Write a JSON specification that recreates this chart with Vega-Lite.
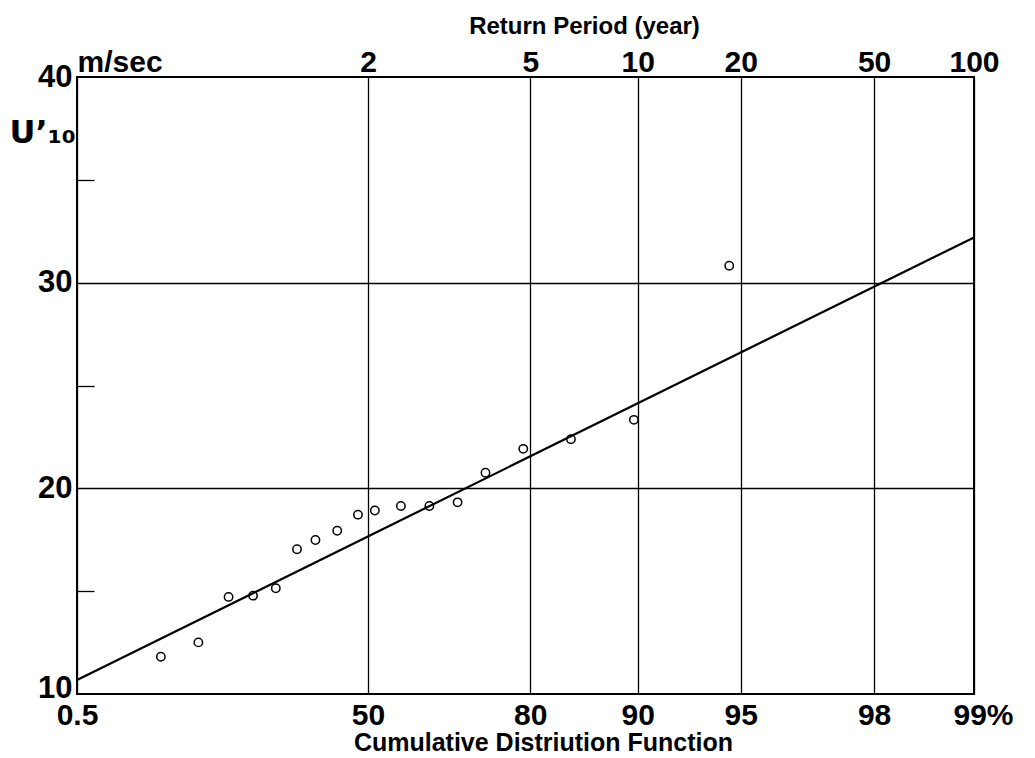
{
  "$schema": "https://vega.github.io/schema/vega-lite/v6.json",
  "width": 897,
  "height": 617,
  "autosize": "none",
  "padding": {"left": 77, "top": 77, "right": 61, "bottom": 64},
  "background": "white",
  "config": {
    "font": "Liberation Sans",
    "view": {"stroke": "black", "strokeWidth": 2},
    "axis": {"labelColor": "black", "titleColor": "black", "labelFont": "Liberation Sans", "titleFont": "Liberation Sans"}
  },
  "datasets": {
    "obs": [
      {"gumbel_variate": -1.081, "U10": 11.81},
      {"gumbel_variate": -0.819, "U10": 12.51},
      {"gumbel_variate": -0.608, "U10": 14.72},
      {"gumbel_variate": -0.437, "U10": 14.78},
      {"gumbel_variate": -0.278, "U10": 15.14},
      {"gumbel_variate": -0.130, "U10": 17.04},
      {"gumbel_variate": -0.001, "U10": 17.49},
      {"gumbel_variate": 0.151, "U10": 17.94},
      {"gumbel_variate": 0.296, "U10": 18.72},
      {"gumbel_variate": 0.414, "U10": 18.92},
      {"gumbel_variate": 0.596, "U10": 19.14},
      {"gumbel_variate": 0.795, "U10": 19.14},
      {"gumbel_variate": 0.992, "U10": 19.32},
      {"gumbel_variate": 1.187, "U10": 20.76},
      {"gumbel_variate": 1.451, "U10": 21.92},
      {"gumbel_variate": 1.784, "U10": 22.39},
      {"gumbel_variate": 2.224, "U10": 23.33},
      {"gumbel_variate": 2.890, "U10": 30.82}
    ],
    "fit": [
      {"gumbel_variate": -1.667, "U10": 10.68},
      {"gumbel_variate": 4.600, "U10": 32.2}
    ]
  },
  "layer": [
    {
      "data": {"name": "fit"},
      "mark": {"type": "line", "color": "black", "strokeWidth": 2.2, "clip": false},
      "encoding": {
        "x": {
          "field": "gumbel_variate", "type": "quantitative",
          "scale": {"domain": [-1.667, 4.6001], "nice": false, "zero": false},
          "axis": {
            "orient": "bottom",
            "values": [-1.667, 0.3665, 1.5, 2.2504, 2.9702, 3.9019, 4.6001],
            "labelExpr": "datum.value < -1 ? '0.5' : datum.value < 1 ? '50' : datum.value < 2 ? '80' : datum.value < 2.6 ? '90' : datum.value < 3.4 ? '95' : datum.value < 4.2 ? '98' : '99%'",
            "labelOffset": {"condition": {"test": "datum.value > 4.2", "value": 9}, "value": 0},
            "grid": true, "gridColor": "black", "gridWidth": 1.3, "gridOpacity": 1,
            "ticks": false, "domain": false,
            "labelFontSize": 30, "labelFontWeight": "bold", "labelPadding": 6, "labelOverlap": false, "labelFlush": false,
            "title": "Cumulative Distriution Function",
            "titleFontSize": 25, "titleFontWeight": "bold",
            "titleX": 466, "titleY": 56, "titleAlign": "center", "titleBaseline": "alphabetic"
          }
        },
        "y": {
          "field": "U10", "type": "quantitative",
          "scale": {"domain": [10, 40], "nice": false, "zero": false},
          "axis": {
            "values": [10, 15, 20, 25, 30, 35, 40],
            "labelExpr": "datum.value % 10 == 0 ? datum.label : ''",
            "labelOffset": {"condition": {"test": "datum.value == 10", "value": -6}, "value": 0},
            "grid": true, "gridColor": "black", "gridWidth": 1.3,
            "gridOpacity": {"condition": {"test": "datum.value == 20 || datum.value == 30", "value": 1}, "value": 0},
            "ticks": true, "tickColor": "black", "tickWidth": 1.3, "tickSize": -17,
            "tickOpacity": {"condition": {"test": "datum.value % 10 != 0", "value": 1}, "value": 0},
            "domain": false,
            "labelFontSize": 31, "labelFontWeight": "bold", "labelPadding": 22, "labelOverlap": false, "labelFlush": false,
            "title": "U’₁₀", "titleAngle": 0, "titleFont": "DejaVu Sans", "titleFontSize": 32, "titleFontWeight": "bold",
            "titleX": -68, "titleY": 65, "titleAlign": "left", "titleBaseline": "alphabetic"
          }
        }
      }
    },
    {
      "data": {"name": "obs"},
      "mark": {"type": "point", "shape": "circle", "filled": false, "stroke": "black", "strokeWidth": 1.5, "size": 70, "opacity": 1},
      "encoding": {
        "x": {
          "field": "gumbel_variate", "type": "quantitative",
          "axis": {
            "orient": "top",
            "values": [-1.667, 0.3665, 1.5, 2.2504, 2.9702, 3.9019, 4.6001],
            "labelExpr": "datum.value < -1 ? 'm/sec' : datum.value < 1 ? '2' : datum.value < 2 ? '5' : datum.value < 2.6 ? '10' : datum.value < 3.4 ? '20' : datum.value < 4.2 ? '50' : '100'",
            "labelAlign": {"condition": {"test": "datum.value < -1", "value": "left"}, "value": "center"},
            "grid": false, "ticks": false, "domain": false,
            "labelFontSize": 30, "labelFontWeight": "bold", "labelPadding": 0, "labelOverlap": false, "labelFlush": false,
            "title": "Return Period (year)",
            "titleFontSize": 24, "titleFontWeight": "bold",
            "titleX": 507, "titleY": -44, "titleAlign": "center", "titleBaseline": "alphabetic"
          }
        },
        "y": {"field": "U10", "type": "quantitative", "axis": null}
      }
    }
  ],
  "resolve": {"axis": {"x": "independent", "y": "independent"}}
}
